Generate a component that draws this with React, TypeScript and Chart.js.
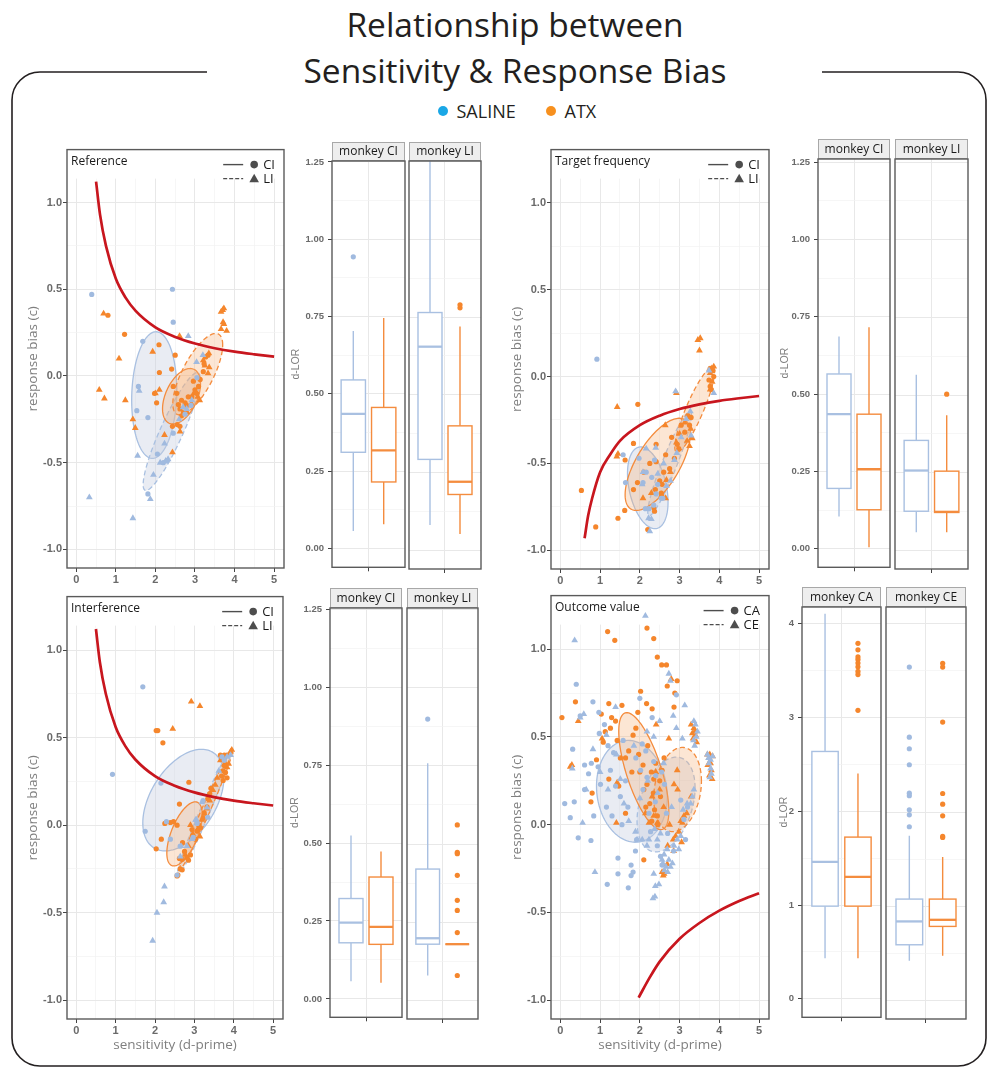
import React, { useEffect, useRef } from 'react';
import { Chart, registerables } from 'chart.js';

Chart.register(...registerables);

// ================= DATA =================
type Pt = [number, number];
// ellipse: [centre x, centre y, half x-extent, half y-extent, tilt (correlation)]
type Ell = [number, number, number, number, number];
// box: [lower whisker, q1, median, q3, upper whisker]
type Box5 = [number, number, number, number, number];

const GROUPS = ['SALINE', 'ATX'];

const SCATTER_X_TICKS = [0, 1, 2, 3, 4, 5];
const SCATTER_X_MINOR = [0.5, 1.5, 2.5, 3.5, 4.5];
const SCATTER_Y_TICKS = [-1, -0.5, 0, 0.5, 1];
const SCATTER_Y_LABELS = ['-1.0', '-0.5', '0.0', '0.5', '1.0'];
const SCATTER_Y_MINOR = [-0.75, -0.25, 0.25, 0.75, 1.25];
const SCATTER_X_RANGE = [-0.235, 5.25];
const SCATTER_Y_RANGE = [-1.107, 1.305];

const DLOR_TICKS = [0, 0.25, 0.5, 0.75, 1, 1.25];
const DLOR_LABELS = ['0.00', '0.25', '0.50', '0.75', '1.00', '1.25'];
const DLOR_MINOR = [0.125, 0.375, 0.625, 0.875, 1.125];
const OV_DLOR_TICKS = [0, 1, 2, 3, 4];
const OV_DLOR_LABELS = ['0', '1', '2', '3', '4'];
const OV_DLOR_MINOR = [0.5, 1.5, 2.5, 3.5];

// ---- Reference ----
const REF_SALINE_CI: Pt[] = [[0.39,0.47],[2.43,0.50],[2.45,0.31],[1.68,0.20],[1.57,-0.06],[1.53,-0.20],[1.81,-0.24],[1.81,-0.68],[2.45,-0.33],[2.29,-0.49],[2.20,-0.50],[2.90,-0.17],[2.75,-0.22],[3.05,-0.01],[2.05,-0.45]];
const REF_SALINE_LI: Pt[] = [[0.33,-0.70],[1.43,-0.82],[1.87,-0.71],[1.95,-0.57],[1.59,-0.085],[1.55,-0.46],[2.23,-0.39],[2.83,0.23],[3.04,0.08],[2.12,-0.50],[2.26,-0.49],[2.32,-0.48],[2.79,-0.19],[2.92,-0.14],[2.60,-0.25],[2.70,-0.18],[3.20,0.12]];
const REF_ATX_CI: Pt[] = [[0.80,0.35],[1.22,0.24],[2.09,0.18],[2.50,0.12],[2.41,0.04],[2.03,-0.155],[2.43,-0.29],[2.54,-0.10],[2.66,-0.14],[2.75,-0.155],[2.83,-0.12],[2.62,-0.19],[2.71,-0.21],[2.79,-0.17],[2.92,-0.12],[3.00,-0.08],[3.04,-0.10],[3.09,-0.06],[2.96,-0.03],[2.45,-0.06],[2.58,-0.165],[2.66,-0.23],[3.13,-0.02],[3.21,0.025],[3.23,0.07],[3.27,0.11],[3.33,0.12],[1.98,-0.10],[2.10,0.02],[2.55,-0.28],[2.62,-0.29]];
const REF_ATX_LI: Pt[] = [[0.69,0.36],[0.58,-0.08],[0.71,-0.13],[1.08,0.10],[1.24,-0.14],[1.43,-0.25],[1.49,-0.30],[1.93,0.14],[2.10,-0.08],[2.23,-0.34],[2.43,-0.44],[2.62,-0.32],[2.61,0.23],[3.70,0.38],[3.73,0.39],[3.66,0.37],[3.71,0.31],[3.73,0.30],[3.66,0.27],[3.80,0.26],[3.33,0.015],[3.36,0.05],[3.21,0.09],[3.25,0.06],[2.00,-0.10],[2.97,-0.10],[3.07,-0.12],[3.12,-0.14],[2.91,-0.16],[2.80,-0.21],[3.35,0.13]];
const REF_CURVE: Pt[] = [[0.5,1.12],[0.6,0.93],[0.75,0.75],[1,0.56],[1.25,0.45],[1.5,0.375],[2,0.28],[2.5,0.225],[3,0.187],[3.5,0.16],[4,0.14],[4.5,0.125],[5,0.112]];
const REF_ELL_SALINE_CI: Ell = [1.97, -0.11, 0.57, 0.365, 0.08];
const REF_ELL_SALINE_LI: Ell = [2.41, -0.32, 0.72, 0.34, 0.9];
const REF_ELL_ATX_CI: Ell = [2.66, -0.117, 0.48, 0.16, 0.45];
const REF_ELL_ATX_LI: Ell = [3.07, 0.01, 0.63, 0.235, 0.72];

// ---- Target frequency ----
const TF_SALINE_CI: Pt[] = [[0.92,0.10],[1.58,-0.45],[1.64,-0.61],[2.08,-0.61],[2.14,-0.76],[2.23,-0.76],[2.35,-0.74],[2.41,-0.675],[2.54,-0.70],[2.37,-0.48],[2.16,-0.55],[2.58,-0.70],[1.98,-0.47],[2.30,-0.58],[2.45,-0.62]];
const TF_SALINE_LI: Pt[] = [[2.90,-0.085],[2.25,-0.89],[2.22,-0.815],[2.29,-0.82],[2.08,-0.55],[2.06,-0.62],[2.16,-0.415],[2.40,-0.41],[2.67,-0.63],[2.77,-0.60],[2.87,-0.48],[2.93,-0.44],[3.04,-0.35],[3.17,-0.245],[3.27,-0.20],[3.29,-0.34],[3.74,0.035],[3.86,-0.095],[2.45,-0.56],[2.60,-0.50]];
const TF_ATX_CI: Pt[] = [[0.53,-0.655],[0.89,-0.865],[1.45,-0.815],[1.62,-0.77],[1.63,-0.48],[1.84,-0.385],[1.95,-0.16],[1.94,-0.61],[1.84,-0.65],[2.20,-0.88],[2.37,-0.775],[2.35,-0.755],[2.39,-0.65],[2.50,-0.60],[2.54,-0.67],[2.56,-0.62],[2.41,-0.49],[2.41,-0.39],[2.65,-0.45],[2.75,-0.53],[2.87,-0.47],[2.94,-0.39],[2.98,-0.415],[3.04,-0.28],[3.13,-0.32],[3.21,-0.225],[3.25,-0.28],[3.29,-0.235],[3.77,0.047],[3.84,0.034],[3.77,-0.057],[3.80,-0.075],[3.74,-0.02],[3.86,0.0],[2.10,-0.55],[2.25,-0.50],[2.60,-0.55],[2.80,-0.35]];
const TF_ATX_LI: Pt[] = [[1.43,-0.175],[1.45,-0.445],[1.42,-0.46],[3.46,0.21],[3.52,0.22],[3.50,0.15],[2.92,-0.095],[2.64,-0.28],[2.29,-0.67],[2.67,-0.595],[2.77,-0.55],[2.92,-0.38],[3.00,-0.33],[3.13,-0.265],[3.24,-0.235],[3.28,-0.30],[3.32,-0.355],[3.25,-0.40],[3.19,-0.37],[3.77,0.02],[3.82,-0.03],[3.77,-0.075],[3.86,0.057],[3.81,0.047],[2.08,-0.70],[2.55,-0.68],[2.65,-0.70]];
const TF_CURVE: Pt[] = [[0.61,-0.93],[0.7,-0.8],[0.8,-0.7],[1,-0.55],[1.25,-0.45],[1.5,-0.37],[2,-0.28],[2.5,-0.225],[3,-0.187],[3.5,-0.16],[4,-0.14],[4.5,-0.125],[5,-0.112]];
const TF_ELL_SALINE_CI: Ell = [2.2, -0.64, 0.51, 0.235, -0.35];
const TF_ELL_SALINE_LI: Ell = [2.75, -0.5, 0.55, 0.3, 0.93];
const TF_ELL_ATX_CI: Ell = [2.45, -0.505, 0.82, 0.265, 0.66];
const TF_ELL_ATX_LI: Ell = [3.38, -0.19, 0.5, 0.245, 0.88];

// ---- Interference ----
const INT_SALINE_CI: Pt[] = [[1.69,0.79],[0.92,0.29],[2.15,0.24],[1.75,-0.035],[2.29,0.02],[2.39,-0.08],[2.64,-0.12],[3.22,0.14],[3.34,0.045],[3.70,0.39],[3.76,0.37],[3.07,0.01],[2.97,-0.07],[2.56,-0.285]];
const INT_SALINE_LI: Pt[] = [[1.94,-0.66],[2.05,-0.50],[2.22,-0.44],[2.24,-0.35],[2.66,-0.12],[3.05,0.03],[3.19,0.13],[3.32,0.10],[2.64,-0.18],[2.81,-0.12],[2.94,-0.08],[3.62,0.31],[3.83,0.39],[3.92,0.40],[3.03,0.03]];
const INT_ATX_CI: Pt[] = [[2.03,0.54],[2.07,0.54],[2.20,0.47],[2.86,0.245],[2.62,0.12],[2.25,0.01],[2.39,0.015],[2.56,0.0],[2.16,-0.08],[2.03,-0.135],[2.62,-0.19],[2.69,-0.195],[2.81,-0.185],[2.90,-0.17],[2.64,-0.25],[2.69,-0.255],[2.56,-0.29],[2.58,-0.285],[3.07,-0.035],[3.11,0.0],[3.15,-0.015],[3.22,0.04],[3.25,0.07],[3.32,0.105],[3.34,0.15],[3.39,0.18],[3.42,0.21],[3.66,0.40],[3.70,0.39],[3.75,0.37],[3.76,0.34],[3.73,0.31],[3.79,0.30],[3.69,0.28],[3.83,0.27],[3.73,0.255],[3.76,0.40],[3.83,0.40],[2.94,-0.025],[3.03,-0.08],[2.47,0.02],[2.70,-0.10],[2.75,-0.15],[2.85,-0.20]];
const INT_ATX_LI: Pt[] = [[2.92,0.705],[3.14,0.68],[2.45,0.55],[2.96,-0.05],[2.98,-0.08],[3.08,-0.025],[3.14,-0.065],[3.19,0.03],[3.25,0.065],[3.32,0.095],[3.39,0.14],[3.47,0.20],[3.53,0.23],[3.58,0.27],[3.66,0.37],[3.73,0.38],[3.79,0.35],[3.83,0.33],[3.87,0.35],[3.92,0.42],[3.95,0.43],[2.85,-0.12],[2.77,-0.17],[2.90,0.0]];
const INT_CURVE: Pt[] = [[0.5,1.12],[0.6,0.93],[0.75,0.75],[1,0.56],[1.25,0.45],[1.5,0.375],[2,0.28],[2.5,0.225],[3,0.187],[3.5,0.16],[4,0.14],[4.5,0.125],[5,0.112]];
const INT_ELL_SALINE_CI: Ell = [2.72, 0.143, 1.03, 0.29, 0.45];
const INT_ELL_SALINE_LI: Ell = [3.24, 0.065, 0.68, 0.355, 0.98];
const INT_ELL_ATX_CI: Ell = [2.75, -0.05, 0.45, 0.183, 0.6];
const INT_ELL_ATX_LI: Ell = [3.3, 0.09, 0.67, 0.34, 0.985];

// ---- Outcome value ----
const OV_SALINE_CA: Pt[] = [[0.40,0.80],[0.11,0.12],[0.25,0.04],[0.35,0.13],[0.31,0.43],[0.45,-0.075],[0.77,-0.09],[0.61,0.34],[0.61,0.20],[0.71,0.29],[0.78,0.35],[0.84,0.05],[0.82,0.70],[0.97,0.64],[1.01,0.23],[1.16,0.10],[1.18,-0.34],[1.11,0.57],[1.26,0.31],[1.34,0.41],[1.39,0.22],[1.45,-0.19],[1.45,-0.28],[1.51,0.16],[1.58,0.48],[1.64,0.25],[1.71,-0.36],[1.78,-0.23],[1.78,-0.29],[1.83,-0.27],[1.89,-0.15],[1.92,-0.085],[2.00,0.72],[2.02,0.31],[2.06,0.46],[2.08,0.20],[2.18,0.27],[2.23,0.065],[2.27,-0.04],[2.31,0.61],[2.35,0.36],[2.39,0.13],[2.44,-0.12],[2.52,-0.18],[2.56,-0.23],[2.62,0.23],[2.67,0.065],[2.92,0.74],[3.03,0.14],[3.11,0.03],[3.15,-0.085],[1.30,0.05],[1.55,0.0],[1.70,0.10],[1.20,0.45],[0.95,0.33],[2.15,0.42],[1.90,0.38],[2.40,0.28],[2.55,0.30],[2.70,-0.05],[0.50,0.62],[0.98,0.52],[2.85,-0.15],[3.20,0.10]];
const OV_SALINE_CE: Pt[] = [[0.36,1.05],[0.59,0.63],[0.50,0.61],[0.56,0.01],[0.87,-0.27],[0.82,0.43],[1.16,0.51],[1.39,0.67],[1.41,0.40],[1.51,0.26],[1.72,0.02],[1.89,-0.04],[1.93,-0.085],[2.14,1.19],[2.18,0.53],[2.35,0.50],[2.50,0.59],[2.73,0.86],[2.77,0.82],[2.84,0.62],[2.92,0.55],[3.07,0.49],[3.13,0.68],[3.36,0.59],[3.40,0.57],[3.45,0.53],[2.35,-0.28],[2.39,-0.35],[2.33,-0.42],[2.38,-0.41],[2.48,-0.34],[2.56,-0.20],[2.61,-0.17],[2.69,-0.14],[2.73,-0.20],[2.77,-0.24],[2.82,-0.22],[2.86,-0.12],[2.94,-0.085],[2.98,-0.14],[3.03,-0.065],[3.09,0.085],[3.19,0.12],[3.28,0.12],[3.32,0.16],[3.36,0.20],[2.06,-0.085],[2.18,-0.12],[2.23,-0.085],[2.37,-0.025],[2.44,-0.085],[2.52,-0.05],[3.70,0.40],[3.74,0.35],[3.78,0.32],[3.76,0.27],[3.80,0.29],[3.73,0.38],[3.83,0.39],[3.78,0.37],[2.62,-0.26],[2.66,-0.24],[2.70,-0.27],[2.58,-0.22],[3.35,0.48],[3.38,0.45],[3.42,0.50],[1.00,0.30],[1.20,0.20],[1.60,0.12],[2.00,0.15],[2.20,0.25],[2.45,0.18],[2.60,0.35],[2.80,0.10],[0.65,0.20],[0.30,0.32],[1.85,0.45]];
const OV_ATX_CA: Pt[] = [[0.04,0.61],[0.38,0.70],[1.19,1.10],[1.37,1.05],[2.18,1.12],[2.35,1.06],[2.44,0.955],[2.55,0.91],[2.67,0.91],[2.94,0.82],[2.69,0.79],[2.88,0.75],[2.86,0.67],[2.02,0.76],[2.17,0.69],[2.31,0.66],[1.95,0.64],[1.22,0.69],[1.55,0.68],[1.03,0.63],[1.29,0.61],[1.39,0.59],[1.13,0.53],[1.08,0.47],[0.91,0.37],[0.77,0.13],[0.80,0.18],[1.22,0.26],[1.47,0.22],[1.64,0.065],[1.64,0.38],[1.72,0.42],[1.83,0.51],[1.97,0.40],[2.08,0.34],[2.18,0.23],[2.29,0.30],[2.34,0.18],[2.37,0.085],[2.44,0.05],[2.52,0.16],[2.56,0.31],[2.61,0.38],[2.10,-0.20],[1.26,0.55],[1.43,0.48],[1.51,0.38],[2.00,0.30],[2.10,0.20],[2.25,0.12],[2.30,0.02],[2.45,0.0],[2.20,0.45],[1.90,0.55],[2.50,0.25],[2.40,0.35],[2.35,0.26],[1.80,0.30],[2.15,0.10]];
const OV_ATX_CE: Pt[] = [[0.29,0.34],[0.25,0.33],[0.45,0.59],[1.05,0.49],[1.41,0.01],[1.43,0.24],[2.41,0.57],[2.73,0.49],[2.79,0.83],[3.32,0.52],[3.34,0.49],[3.36,0.55],[3.40,0.51],[3.29,0.57],[3.43,0.47],[3.38,0.53],[3.70,0.40],[3.74,0.38],[3.78,0.35],[3.71,0.34],[3.80,0.31],[3.75,0.28],[3.82,0.26],[3.76,0.40],[3.83,0.39],[2.69,-0.225],[2.56,-0.27],[2.61,-0.28],[2.59,-0.29],[2.84,-0.085],[2.90,-0.065],[2.98,-0.04],[3.03,0.02],[3.07,0.01],[3.11,0.05],[3.18,0.065],[3.29,0.16],[2.86,0.23],[2.94,0.31],[2.35,0.05],[2.44,0.01],[2.23,0.01],[2.14,0.065],[2.31,0.16],[2.50,0.20],[2.60,0.10],[2.75,0.0],[2.95,0.20],[2.40,0.30],[3.05,-0.10],[2.85,-0.15],[2.70,-0.12]];
const OV_CURVE: Pt[] = [[1.97,-0.985],[2.25,-0.87],[2.5,-0.78],[3,-0.65],[3.5,-0.56],[4,-0.49],[4.5,-0.435],[5,-0.39]];
const OV_ELL_SALINE_CA: Ell = [1.8, 0.19, 0.89, 0.29, -0.1];
const OV_ELL_SALINE_CE: Ell = [2.66, 0.115, 0.73, 0.27, 0.35];
const OV_ELL_ATX_CA: Ell = [2.1, 0.305, 0.63, 0.333, -0.68];
const OV_ELL_ATX_CE: Ell = [2.95, 0.2, 0.6, 0.24, 0.2];

// ---- d-LOR box plots ----
const REF_CI_SALINE_BOX: Box5 = [0.056, 0.311, 0.435, 0.545, 0.703];
const REF_CI_SALINE_OUT = [0.943];
const REF_CI_ATX_BOX: Box5 = [0.078, 0.215, 0.317, 0.456, 0.745];
const REF_CI_ATX_OUT: number[] = [];
const REF_LI_SALINE_BOX: Box5 = [0.081, 0.292, 0.655, 0.765, 1.27];
const REF_LI_SALINE_OUT: number[] = [];
const REF_LI_ATX_BOX: Box5 = [0.052, 0.179, 0.22, 0.40, 0.72];
const REF_LI_ATX_OUT = [0.78, 0.79];

const TF_CI_SALINE_BOX: Box5 = [0.104, 0.195, 0.435, 0.565, 0.686];
const TF_CI_SALINE_OUT: number[] = [];
const TF_CI_ATX_BOX: Box5 = [0.005, 0.126, 0.257, 0.435, 0.716];
const TF_CI_ATX_OUT: number[] = [];
const TF_LI_SALINE_BOX: Box5 = [0.058, 0.126, 0.257, 0.354, 0.565];
const TF_LI_SALINE_OUT: number[] = [];
const TF_LI_ATX_BOX: Box5 = [0.058, 0.122, 0.124, 0.255, 0.435];
const TF_LI_ATX_OUT = [0.503];

const INT_CI_SALINE_BOX: Box5 = [0.057, 0.18, 0.245, 0.322, 0.524];
const INT_CI_SALINE_OUT: number[] = [];
const INT_CI_ATX_BOX: Box5 = [0.052, 0.175, 0.231, 0.391, 0.473];
const INT_CI_ATX_OUT: number[] = [];
const INT_LI_SALINE_BOX: Box5 = [0.08, 0.18, 0.199, 0.42, 0.758];
const INT_LI_SALINE_OUT = [0.899];
const INT_LI_ATX_BOX: Box5 = [0.18, 0.18, 0.18, 0.18, 0.18];
const INT_LI_ATX_OUT = [0.561, 0.473, 0.469, 0.40, 0.32, 0.288, 0.217, 0.08];

const OV_CA_SALINE_BOX: Box5 = [0.432, 0.988, 1.459, 2.637, 4.105];
const OV_CA_SALINE_OUT: number[] = [];
const OV_CA_ATX_BOX: Box5 = [0.432, 0.988, 1.299, 1.724, 2.403];
const OV_CA_ATX_OUT = [3.79, 3.72, 3.645, 3.616, 3.58, 3.54, 3.49, 3.457, 3.075];
const OV_CE_SALINE_BOX: Box5 = [0.421, 0.591, 0.839, 1.076, 1.748];
const OV_CE_SALINE_OUT = [1.844, 1.971, 2.024, 2.173, 2.2, 2.502, 2.672, 2.795, 3.539];
const OV_CE_ATX_BOX: Box5 = [0.474, 0.786, 0.856, 1.076, 1.522];
const OV_CE_ATX_OUT = [1.73, 1.741, 1.96, 2.084, 2.197, 2.955, 3.539, 3.58];

// ================= STYLE =================
const SALINE_PT = '#A0BADF';
const ATX_PT = '#F5862C';
const SALINE_LINE = '#A9C0E1';
const ATX_LINE = '#F48C3E';
const SALINE_FILL = 'rgba(196,205,224,0.38)';
const ATX_FILL = 'rgba(244,172,112,0.30)';
const RED = '#C8161E';
const GRID_MAJOR = '#E8E8E8';
const GRID_MINOR = '#F2F2F2';
const FRAME = '#5A5A5A';
const TICK_TXT = '#6A6A6A';
const AXIS_TXT = '#7F7F7F';

function decoPlugin(o: any) {
  return {
    id: 'deco',
    beforeDatasetsDraw(chart: any) {
      const { ctx, chartArea: a, scales } = chart;
      const xs = scales.x, ys = scales.y;
      ctx.save();
      ctx.beginPath();
      ctx.rect(a.left, a.top, a.right - a.left, a.bottom - a.top);
      ctx.clip();
      if (o.band) {
        ctx.fillStyle = '#ffffff';
        ctx.fillRect(a.left, a.top, a.right - a.left, o.band);
      }
      (o.ellipses || []).forEach((e: any) => {
        const [cx, cy, sx, sy, r] = e.p;
        const k = Math.sqrt(1 - r * r);
        ctx.beginPath();
        for (let i = 0; i <= 144; i++) {
          const t = (i / 144) * Math.PI * 2;
          const px = xs.getPixelForValue(cx + sx * Math.cos(t));
          const py = ys.getPixelForValue(cy + sy * (r * Math.cos(t) + k * Math.sin(t)));
          if (i === 0) ctx.moveTo(px, py);
          else ctx.lineTo(px, py);
        }
        ctx.closePath();
        ctx.fillStyle = e.fill;
        ctx.fill();
        ctx.setLineDash(e.dashed ? [5, 3] : []);
        ctx.strokeStyle = e.stroke;
        ctx.lineWidth = 1.3;
        ctx.stroke();
      });
      ctx.setLineDash([]);
      (o.boxes || []).forEach((b: any) => {
        const [lo, q1, md, q3, hi] = b.stats;
        const cx = xs.getPixelForValue(b.x);
        const hw = Math.abs(xs.getPixelForValue(b.x + b.w / 2) - cx);
        const py = (v: number) => ys.getPixelForValue(v);
        ctx.strokeStyle = b.color;
        ctx.lineWidth = 1.4;
        ctx.beginPath();
        ctx.moveTo(cx, py(hi));
        ctx.lineTo(cx, py(q3));
        ctx.moveTo(cx, py(q1));
        ctx.lineTo(cx, py(lo));
        ctx.stroke();
        ctx.fillStyle = '#ffffff';
        ctx.fillRect(cx - hw, py(q3), 2 * hw, py(q1) - py(q3));
        ctx.strokeRect(cx - hw, py(q3), 2 * hw, py(q1) - py(q3));
        ctx.lineWidth = 2.3;
        ctx.beginPath();
        ctx.moveTo(cx - hw, py(md));
        ctx.lineTo(cx + hw, py(md));
        ctx.stroke();
      });
      ctx.restore();
    },
    afterDraw(chart: any) {
      const { ctx, chartArea: a } = chart;
      ctx.save();
      if (o.strip) {
        const h = o.stripH;
        ctx.fillStyle = '#EEEEEE';
        ctx.fillRect(a.left, a.top - h, a.right - a.left, h);
        ctx.strokeStyle = '#A8A8A8';
        ctx.lineWidth = 1;
        ctx.strokeRect(a.left + 0.5, a.top - h + 0.5, a.right - a.left - 1, h - 1);
        ctx.fillStyle = '#1A1A1A';
        ctx.font = '12px "Open Sans"';
        ctx.textAlign = 'center';
        ctx.textBaseline = 'middle';
        ctx.fillText(o.strip, (a.left + a.right) / 2, a.top - h / 2 + 0.5);
      }
      if (o.title) {
        ctx.fillStyle = '#1A1A1A';
        ctx.font = '12px "Open Sans"';
        ctx.textAlign = 'left';
        ctx.textBaseline = 'middle';
        ctx.fillText(o.title, a.left + 4, a.top + 12);
      }
      if (o.legend) {
        ctx.font = '13px "Open Sans"';
        const maxW = Math.max(...o.legend.map((s: string) => ctx.measureText(s).width));
        const tx = a.right - 9 - maxW;
        const sx = tx - 9;
        const le = sx - 11;
        const ls = le - 20;
        o.legend.forEach((s: string, i: number) => {
          const yy = a.top + 15 + i * 14;
          ctx.strokeStyle = '#4D4D4D';
          ctx.fillStyle = '#4D4D4D';
          ctx.lineWidth = 1.4;
          ctx.setLineDash(i === 0 ? [] : [4, 2]);
          ctx.beginPath();
          ctx.moveTo(ls, yy);
          ctx.lineTo(le, yy);
          ctx.stroke();
          ctx.setLineDash([]);
          ctx.beginPath();
          if (i === 0) ctx.arc(sx, yy, 3.8, 0, Math.PI * 2);
          else {
            ctx.moveTo(sx, yy - 4.8);
            ctx.lineTo(sx + 4.8, yy + 3.6);
            ctx.lineTo(sx - 4.8, yy + 3.6);
            ctx.closePath();
          }
          ctx.fill();
          ctx.fillStyle = '#1A1A1A';
          ctx.textAlign = 'left';
          ctx.textBaseline = 'middle';
          ctx.fillText(s, tx, yy + 0.5);
        });
      }
      ctx.strokeStyle = FRAME;
      ctx.lineWidth = 1.4;
      ctx.setLineDash([]);
      ctx.strokeRect(a.left, a.top, a.right - a.left, a.bottom - a.top);
      ctx.restore();
    },
  };
}

const pts = (arr: Pt[], color: string, style: string, r: number) => ({
  type: 'scatter',
  data: arr.map(([x, y]) => ({ x, y })),
  pointStyle: style,
  pointRadius: r,
  pointHoverRadius: r,
  pointBackgroundColor: color,
  pointBorderColor: color,
  pointBorderWidth: 0,
  showLine: false,
  order: 2,
});

function gridOpts(majors: number[], tickLen: number, drawTicks = true) {
  const isMajor = (c: any) => c.tick && majors.indexOf(c.tick.value) >= 0;
  return {
    color: (c: any) => (isMajor(c) ? GRID_MAJOR : GRID_MINOR),
    lineWidth: (c: any) => (isMajor(c) ? 1 : 0.7),
    tickColor: (c: any) => (isMajor(c) ? '#444444' : 'rgba(0,0,0,0)'),
    tickLength: tickLen,
    drawTicks,
    tickWidth: 1,
  };
}

function scatterSpec(p: any) {
  const [L, R, T, B] = p.frame;
  const leftW = 52, rightPad = 4;
  const xAxisH = p.xTitle ? 46 : 22;
  const left = L - leftW, top = T - 1;
  const width = R - L + leftW + rightPad;
  const height = B - T + 1 + xAxisH;
  const [e1, e2, e3, e4] = p.ell;
  const make = () => ({
    type: 'scatter',
    data: {
      datasets: [
        {
          type: 'line',
          data: p.curve.map(([x, y]: Pt) => ({ x, y })),
          borderColor: RED,
          borderWidth: 2.7,
          pointRadius: 0,
          cubicInterpolationMode: 'monotone',
          fill: false,
          order: 0,
        },
        pts(p.s1, SALINE_PT, 'circle', 2.6),
        pts(p.s2, SALINE_PT, 'triangle', 3.9),
        pts(p.a1, ATX_PT, 'circle', 2.6),
        pts(p.a2, ATX_PT, 'triangle', 3.9),
      ],
    },
    options: {
      responsive: false,
      animation: false,
      events: [],
      layout: { autoPadding: false, padding: { top: 1, right: rightPad, left: 0, bottom: 0 } },
      plugins: { legend: { display: false }, tooltip: { enabled: false } },
      scales: {
        x: {
          type: 'linear',
          min: SCATTER_X_RANGE[0],
          max: SCATTER_X_RANGE[1],
          afterBuildTicks: (s: any) => {
            s.ticks = [...SCATTER_X_TICKS, ...SCATTER_X_MINOR].sort((a, b) => a - b).map((v) => ({ value: v }));
          },
          afterFit: (s: any) => { s.height = xAxisH; },
          grid: gridOpts(SCATTER_X_TICKS, 4),
          border: { display: false },
          ticks: {
            autoSkip: false,
            maxRotation: 0,
            minRotation: 0,
            padding: 1,
            color: TICK_TXT,
            font: { family: 'Liberation Sans', size: 11, weight: 'bold' },
            callback: (v: number) => (SCATTER_X_TICKS.indexOf(v) >= 0 ? String(v) : ''),
          },
          title: {
            display: !!p.xTitle,
            text: 'sensitivity (d-prime)',
            color: AXIS_TXT,
            font: { family: 'Open Sans', size: 13.5 },
            padding: { top: 0, bottom: 11.4 },
          },
        },
        y: {
          type: 'linear',
          min: SCATTER_Y_RANGE[0],
          max: SCATTER_Y_RANGE[1],
          afterBuildTicks: (s: any) => {
            s.ticks = [...SCATTER_Y_TICKS, ...SCATTER_Y_MINOR].sort((a, b) => a - b).map((v) => ({ value: v }));
          },
          afterFit: (s: any) => { s.width = leftW; },
          grid: gridOpts(SCATTER_Y_TICKS, 4),
          border: { display: false },
          ticks: {
            autoSkip: false,
            padding: 1,
            color: TICK_TXT,
            font: { family: 'Liberation Sans', size: 11, weight: 'bold' },
            callback: (v: number) => {
              const i = SCATTER_Y_TICKS.indexOf(v);
              return i >= 0 ? SCATTER_Y_LABELS[i] : '';
            },
          },
          title: {
            display: true,
            text: 'response bias (c)',
            color: AXIS_TXT,
            font: { family: 'Open Sans', size: 13.5 },
            padding: { top: 9.9, bottom: 0 },
          },
        },
      },
    },
    plugins: [
      decoPlugin({
        band: 29,
        title: p.title,
        legend: p.legend,
        ellipses: [
          { p: e1, fill: SALINE_FILL, stroke: SALINE_LINE, dashed: false },
          { p: e2, fill: SALINE_FILL, stroke: SALINE_LINE, dashed: true },
          { p: e3, fill: ATX_FILL, stroke: ATX_LINE, dashed: false },
          { p: e4, fill: ATX_FILL, stroke: ATX_LINE, dashed: true },
        ],
      }),
    ],
  });
  return { left, top, width, height, make };
}

function boxSpec(f: any) {
  const [L, R, stripTop, T, B] = f.frame;
  const stripH = T - stripTop;
  const leftW = f.showY ? f.titleDist + 10 : 2;
  const rightPad = 2, xAxisH = 8;
  const left = L - leftW, top = stripTop;
  const width = R - L + leftW + rightPad;
  const height = B - stripTop + xAxisH;
  const majors: number[] = f.ticks;
  const minors: number[] = f.minor;
  const labels: string[] = f.labels;
  const outPts = (vals: number[], x: number, color: string) => ({
    type: 'scatter',
    data: vals.map((v) => ({ x, y: v })),
    pointRadius: 2.6,
    pointHoverRadius: 2.6,
    pointBackgroundColor: color,
    pointBorderWidth: 0,
    showLine: false,
  });
  const make = () => ({
    type: 'scatter',
    data: {
      datasets: [outPts(f.salineOut, 0.75, SALINE_PT), outPts(f.atxOut, 1.25, ATX_PT)],
    },
    options: {
      responsive: false,
      animation: false,
      events: [],
      layout: { autoPadding: false, padding: { top: stripH, right: rightPad, left: f.showY ? 0 : 2, bottom: 0 } },
      plugins: { legend: { display: false }, tooltip: { enabled: false } },
      scales: {
        x: {
          type: 'linear',
          min: 0.4,
          max: 1.6,
          afterBuildTicks: (s: any) => { s.ticks = [{ value: 1 }]; },
          afterFit: (s: any) => { s.height = xAxisH; },
          grid: { color: GRID_MAJOR, tickColor: '#444444', tickLength: 4, lineWidth: 1 },
          border: { display: false },
          ticks: { display: false },
        },
        y: {
          type: 'linear',
          min: f.yr[0],
          max: f.yr[1],
          afterBuildTicks: (s: any) => {
            s.ticks = [...majors, ...minors].sort((a, b) => a - b).map((v) => ({ value: v }));
          },
          afterFit: (s: any) => { s.width = f.showY ? leftW : 0; },
          grid: gridOpts(majors, 4, f.showY),
          border: { display: false },
          ticks: {
            display: f.showY,
            autoSkip: false,
            padding: 4,
            color: TICK_TXT,
            font: { family: 'Liberation Sans', size: 9.5, weight: 'bold' },
            callback: (v: number) => {
              const i = majors.indexOf(v);
              return i >= 0 ? labels[i] : '';
            },
          },
          title: {
            display: f.showY,
            text: 'd-LOR',
            color: AXIS_TXT,
            font: { family: 'Liberation Sans', size: 10.5 },
            padding: { top: 3.7, bottom: 0 },
          },
        },
      },
    },
    plugins: [
      decoPlugin({
        strip: f.label,
        stripH,
        boxes: [
          { x: 0.75, w: 0.4, stats: f.saline, color: SALINE_LINE },
          { x: 1.25, w: 0.4, stats: f.atx, color: ATX_LINE },
        ],
      }),
    ],
  });
  return { left, top, width, height, make };
}

const SCATTERS = [
  scatterSpec({ title: 'Reference', legend: ['CI', 'LI'], frame: [67, 284, 143, 568], xTitle: false, s1: REF_SALINE_CI, s2: REF_SALINE_LI, a1: REF_ATX_CI, a2: REF_ATX_LI, curve: REF_CURVE, ell: [REF_ELL_SALINE_CI, REF_ELL_SALINE_LI, REF_ELL_ATX_CI, REF_ELL_ATX_LI] }),
  scatterSpec({ title: 'Target frequency', legend: ['CI', 'LI'], frame: [551, 769, 143, 569], xTitle: false, s1: TF_SALINE_CI, s2: TF_SALINE_LI, a1: TF_ATX_CI, a2: TF_ATX_LI, curve: TF_CURVE, ell: [TF_ELL_SALINE_CI, TF_ELL_SALINE_LI, TF_ELL_ATX_CI, TF_ELL_ATX_LI] }),
  scatterSpec({ title: 'Interference', legend: ['CI', 'LI'], frame: [67, 283, 590, 1019], xTitle: true, s1: INT_SALINE_CI, s2: INT_SALINE_LI, a1: INT_ATX_CI, a2: INT_ATX_LI, curve: INT_CURVE, ell: [INT_ELL_SALINE_CI, INT_ELL_SALINE_LI, INT_ELL_ATX_CI, INT_ELL_ATX_LI] }),
  scatterSpec({ title: 'Outcome value', legend: ['CA', 'CE'], frame: [551, 769, 589, 1019], xTitle: true, s1: OV_SALINE_CA, s2: OV_SALINE_CE, a1: OV_ATX_CA, a2: OV_ATX_CE, curve: OV_CURVE, ell: [OV_ELL_SALINE_CA, OV_ELL_SALINE_CE, OV_ELL_ATX_CA, OV_ELL_ATX_CE] }),
];

const D = { ticks: DLOR_TICKS, labels: DLOR_LABELS, minor: DLOR_MINOR };
const DO = { ticks: OV_DLOR_TICKS, labels: OV_DLOR_LABELS, minor: OV_DLOR_MINOR };

const BOXES = [
  boxSpec({ ...D, label: 'monkey CI', frame: [332, 405, 142, 161, 569], yr: [-0.061, 1.253], showY: true, titleDist: 36, saline: REF_CI_SALINE_BOX, salineOut: REF_CI_SALINE_OUT, atx: REF_CI_ATX_BOX, atxOut: REF_CI_ATX_OUT }),
  boxSpec({ ...D, label: 'monkey LI', frame: [409, 481, 142, 161, 569], yr: [-0.061, 1.253], showY: false, titleDist: 0, saline: REF_LI_SALINE_BOX, salineOut: REF_LI_SALINE_OUT, atx: REF_LI_ATX_BOX, atxOut: REF_LI_ATX_OUT }),
  boxSpec({ ...D, label: 'monkey CI', frame: [818, 890, 139, 159, 569], yr: [-0.06, 1.26], showY: true, titleDist: 33, saline: TF_CI_SALINE_BOX, salineOut: TF_CI_SALINE_OUT, atx: TF_CI_ATX_BOX, atxOut: TF_CI_ATX_OUT }),
  boxSpec({ ...D, label: 'monkey LI', frame: [895, 968, 139, 159, 569], yr: [-0.06, 1.26], showY: false, titleDist: 0, saline: TF_LI_SALINE_BOX, salineOut: TF_LI_SALINE_OUT, atx: TF_LI_ATX_BOX, atxOut: TF_LI_ATX_OUT }),
  boxSpec({ ...D, label: 'monkey CI', frame: [330, 402, 588, 608, 1019], yr: [-0.059, 1.254], showY: true, titleDist: 35, saline: INT_CI_SALINE_BOX, salineOut: INT_CI_SALINE_OUT, atx: INT_CI_ATX_BOX, atxOut: INT_CI_ATX_OUT }),
  boxSpec({ ...D, label: 'monkey LI', frame: [407, 478, 588, 608, 1019], yr: [-0.059, 1.254], showY: false, titleDist: 0, saline: INT_LI_SALINE_BOX, salineOut: INT_LI_SALINE_OUT, atx: INT_LI_ATX_BOX, atxOut: INT_LI_ATX_OUT }),
  boxSpec({ ...DO, label: 'monkey CA', frame: [802, 881, 587, 607, 1019], yr: [-0.197, 4.177], showY: true, titleDist: 18, saline: OV_CA_SALINE_BOX, salineOut: OV_CA_SALINE_OUT, atx: OV_CA_ATX_BOX, atxOut: OV_CA_ATX_OUT }),
  boxSpec({ ...DO, label: 'monkey CE', frame: [886, 966, 587, 607, 1019], yr: [-0.197, 4.177], showY: false, titleDist: 0, saline: OV_CE_SALINE_BOX, salineOut: OV_CE_SALINE_OUT, atx: OV_CE_ATX_BOX, atxOut: OV_CE_ATX_OUT }),
];

function ChartBox({ spec }: { spec: any }) {
  const ref = useRef<HTMLCanvasElement>(null);
  useEffect(() => {
    const chart = new Chart(ref.current as HTMLCanvasElement, spec.make());
    return () => chart.destroy();
  }, [spec]);
  return (
    <canvas
      ref={ref}
      width={spec.width}
      height={spec.height}
      style={{ position: 'absolute', left: spec.left, top: spec.top, width: spec.width, height: spec.height }}
    />
  );
}

export default function App() {
  const titleStyle: React.CSSProperties = {
    position: 'absolute', left: 0, width: 1030, textAlign: 'center',
    fontFamily: '"Open Sans", sans-serif', fontSize: 33.5, lineHeight: '46px', color: '#231F20', whiteSpace: 'nowrap',
  };
  const legStyle: React.CSSProperties = {
    position: 'absolute', top: 100.5, fontFamily: '"Open Sans", sans-serif', fontSize: 18, lineHeight: '20px', color: '#231F20',
  };
  const dot = (x: number, c: string): React.CSSProperties => ({
    position: 'absolute', left: x - 5, top: 106, width: 10, height: 10, borderRadius: 5, background: c,
  });
  return (
    <div style={{ position: 'absolute', left: 0, top: 0, width: 990, height: 1067, overflow: 'hidden', background: '#fff' }}>
      <svg width={990} height={1067} style={{ position: 'absolute', left: 0, top: 0 }}>
        <path
          d="M 207 72 H 40 A 28 28 0 0 0 12 100 V 1038 A 28 28 0 0 0 40 1066 H 958 A 28 28 0 0 0 986 1038 V 100 A 28 28 0 0 0 958 72 H 822"
          fill="none" stroke="#231F20" strokeWidth={1.6}
        />
      </svg>
      <div style={{ ...titleStyle, top: 1.3 }}>Relationship between</div>
      <div style={{ ...titleStyle, top: 47.3 }}>Sensitivity &amp; Response Bias</div>
      <div style={dot(443, '#1AA7E6')} />
      <div style={{ ...legStyle, left: 456.5 }}>{GROUPS[0]}</div>
      <div style={dot(550.5, '#F7901E')} />
      <div style={{ ...legStyle, left: 564.5 }}>{GROUPS[1]}</div>
      {SCATTERS.map((s, i) => <ChartBox key={'s' + i} spec={s} />)}
      {BOXES.map((s, i) => <ChartBox key={'b' + i} spec={s} />)}
    </div>
  );
}
